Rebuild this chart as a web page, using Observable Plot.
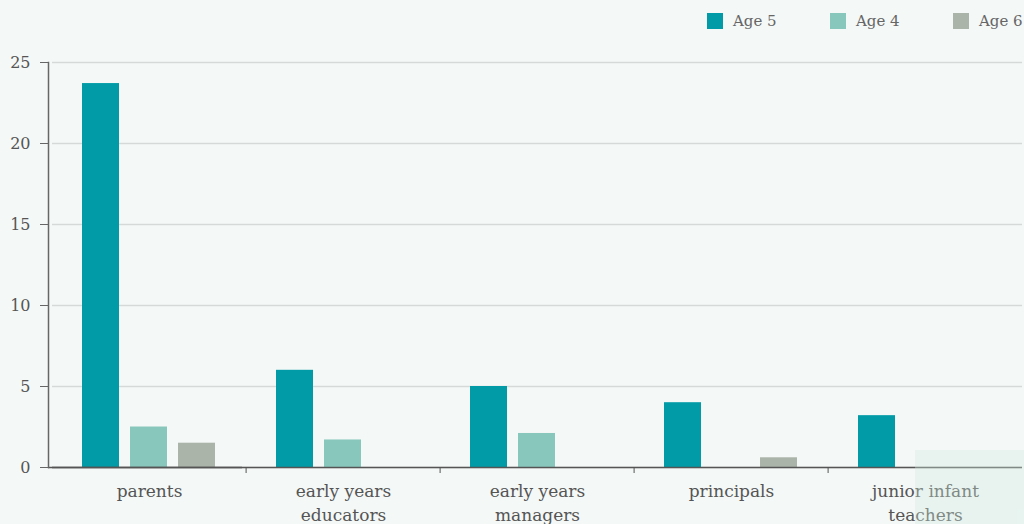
<!DOCTYPE html>
<html>
<head>
<meta charset="utf-8">
<script src="https://cdn.jsdelivr.net/npm/d3@7"></script>
<script src="https://cdn.jsdelivr.net/npm/@observablehq/plot@0.6"></script>
<style>
  html, body { margin: 0; padding: 0; background: #f4f8f7; overflow: hidden; }
  #wrap { position: relative; width: 1024px; height: 524px; }
  .legend { position: absolute; left: 707px; top: 12px; display: flex; font-family: "DejaVu Serif", serif; font-size: 15px; color: #666; }
  .legend .item { width: 123px; display: flex; align-items: center; white-space: nowrap; }
  .legend .sw { width: 16px; height: 16px; margin-right: 10px; flex: none; }
  .panel { position: absolute; left: 915px; top: 450px; width: 109px; height: 74px; background: rgba(210, 236, 224, 0.35); pointer-events: none; }
</style>
</head>
<body>
<div id="wrap">
  <div id="chart"></div>
  <div class="legend" id="legend"></div>
  <div class="panel"></div>
</div>
<script>
// Respondent groups and their axis labels
const categories = ["parents", "early years educators", "early years managers", "principals", "junior infant teachers"];
const categoryLabels = ["parents", "early years\neducators", "early years\nmanagers", "principals", "junior infant\nteachers"];

// Series (age at school start) and colours
const series = ["Age 5", "Age 4", "Age 6"];
const seriesColors = ["#009ba7", "#88c8bc", "#abb4a9"];

// Values per group, in category order (null = no bar)
const age5 = [23.7, 6.0, 5.0, 4.0, 3.2];
const age4 = [2.5, 1.7, 2.1, null, null];
const age6 = [1.5, null, null, 0.6, null];

// Y axis ticks
const yTicks = [0, 5, 10, 15, 20, 25];

const valuesBySeries = { "Age 5": age5, "Age 4": age4, "Age 6": age6 };
const rows = categories.flatMap((c, i) =>
  series.map(s => ({ category: c, series: s, value: valuesBySeries[s][i] }))
).filter(d => d.value != null);

const labelOf = new Map(categories.map((c, i) => [c, categoryLabels[i]]));

const width = 1024, height = 524;
const marginLeft = 50, marginRight = 0;
const bandWidth = (width - marginLeft - marginRight) / categories.length;
const font = "DejaVu Serif";

const chart = Plot.plot({
  width, height,
  marginTop: 62, marginBottom: 57, marginLeft, marginRight,
  style: { background: "transparent", fontFamily: font, color: "#5a5a5a", overflow: "visible" },
  fx: { domain: categories, padding: 0, axis: null, label: null },
  x: { domain: series, paddingInner: 0.22, paddingOuter: 0.62, axis: null },
  y: { domain: [0, 25], axis: null, label: null },
  color: { domain: series, range: seriesColors },
  marks: [
    Plot.gridY(yTicks, { stroke: "#d5d9d8", strokeOpacity: 1, strokeWidth: 1.5 }),
    Plot.barY(rows, { fx: "category", x: "series", y: "value", fill: "series" }),
    // baseline
    Plot.ruleY([0], { stroke: "#555", strokeWidth: 1.5 }),
    Plot.ruleY([0], { stroke: "#555", strokeWidth: 1.5, dx: -4, facetAnchor: "left" }),
    // vertical axis line
    Plot.frame({ anchor: "left", dx: -4, stroke: "#666", strokeWidth: 1.5, facetAnchor: "left" }),
    Plot.axisY({
      ticks: yTicks, label: null,
      tickSize: 8, tickPadding: 10, dx: -4, fontSize: 16,
      stroke: "#666", fill: "#555", tickFormat: d => String(d)
    }),
    // group labels
    Plot.axisFx({
      anchor: "bottom", label: null,
      tickSize: 0, tickPadding: 13, fontSize: 17, lineHeight: 1.4,
      fill: "#555", tickFormat: c => labelOf.get(c)
    }),
    // separators between groups
    Plot.axisFx({
      anchor: "bottom", label: null, ticks: categories.slice(1),
      tickSize: 6, tickPadding: 0, dx: -bandWidth / 2,
      stroke: "#555", tickFormat: () => ""
    })
  ]
});
document.getElementById("chart").append(chart);

// Legend
const legend = document.getElementById("legend");
series.forEach((s, i) => {
  const item = document.createElement("div");
  item.className = "item";
  const sw = document.createElement("span");
  sw.className = "sw";
  sw.style.background = seriesColors[i];
  const label = document.createElement("span");
  label.textContent = s;
  item.append(sw, label);
  legend.append(item);
});
</script>
</body>
</html>
